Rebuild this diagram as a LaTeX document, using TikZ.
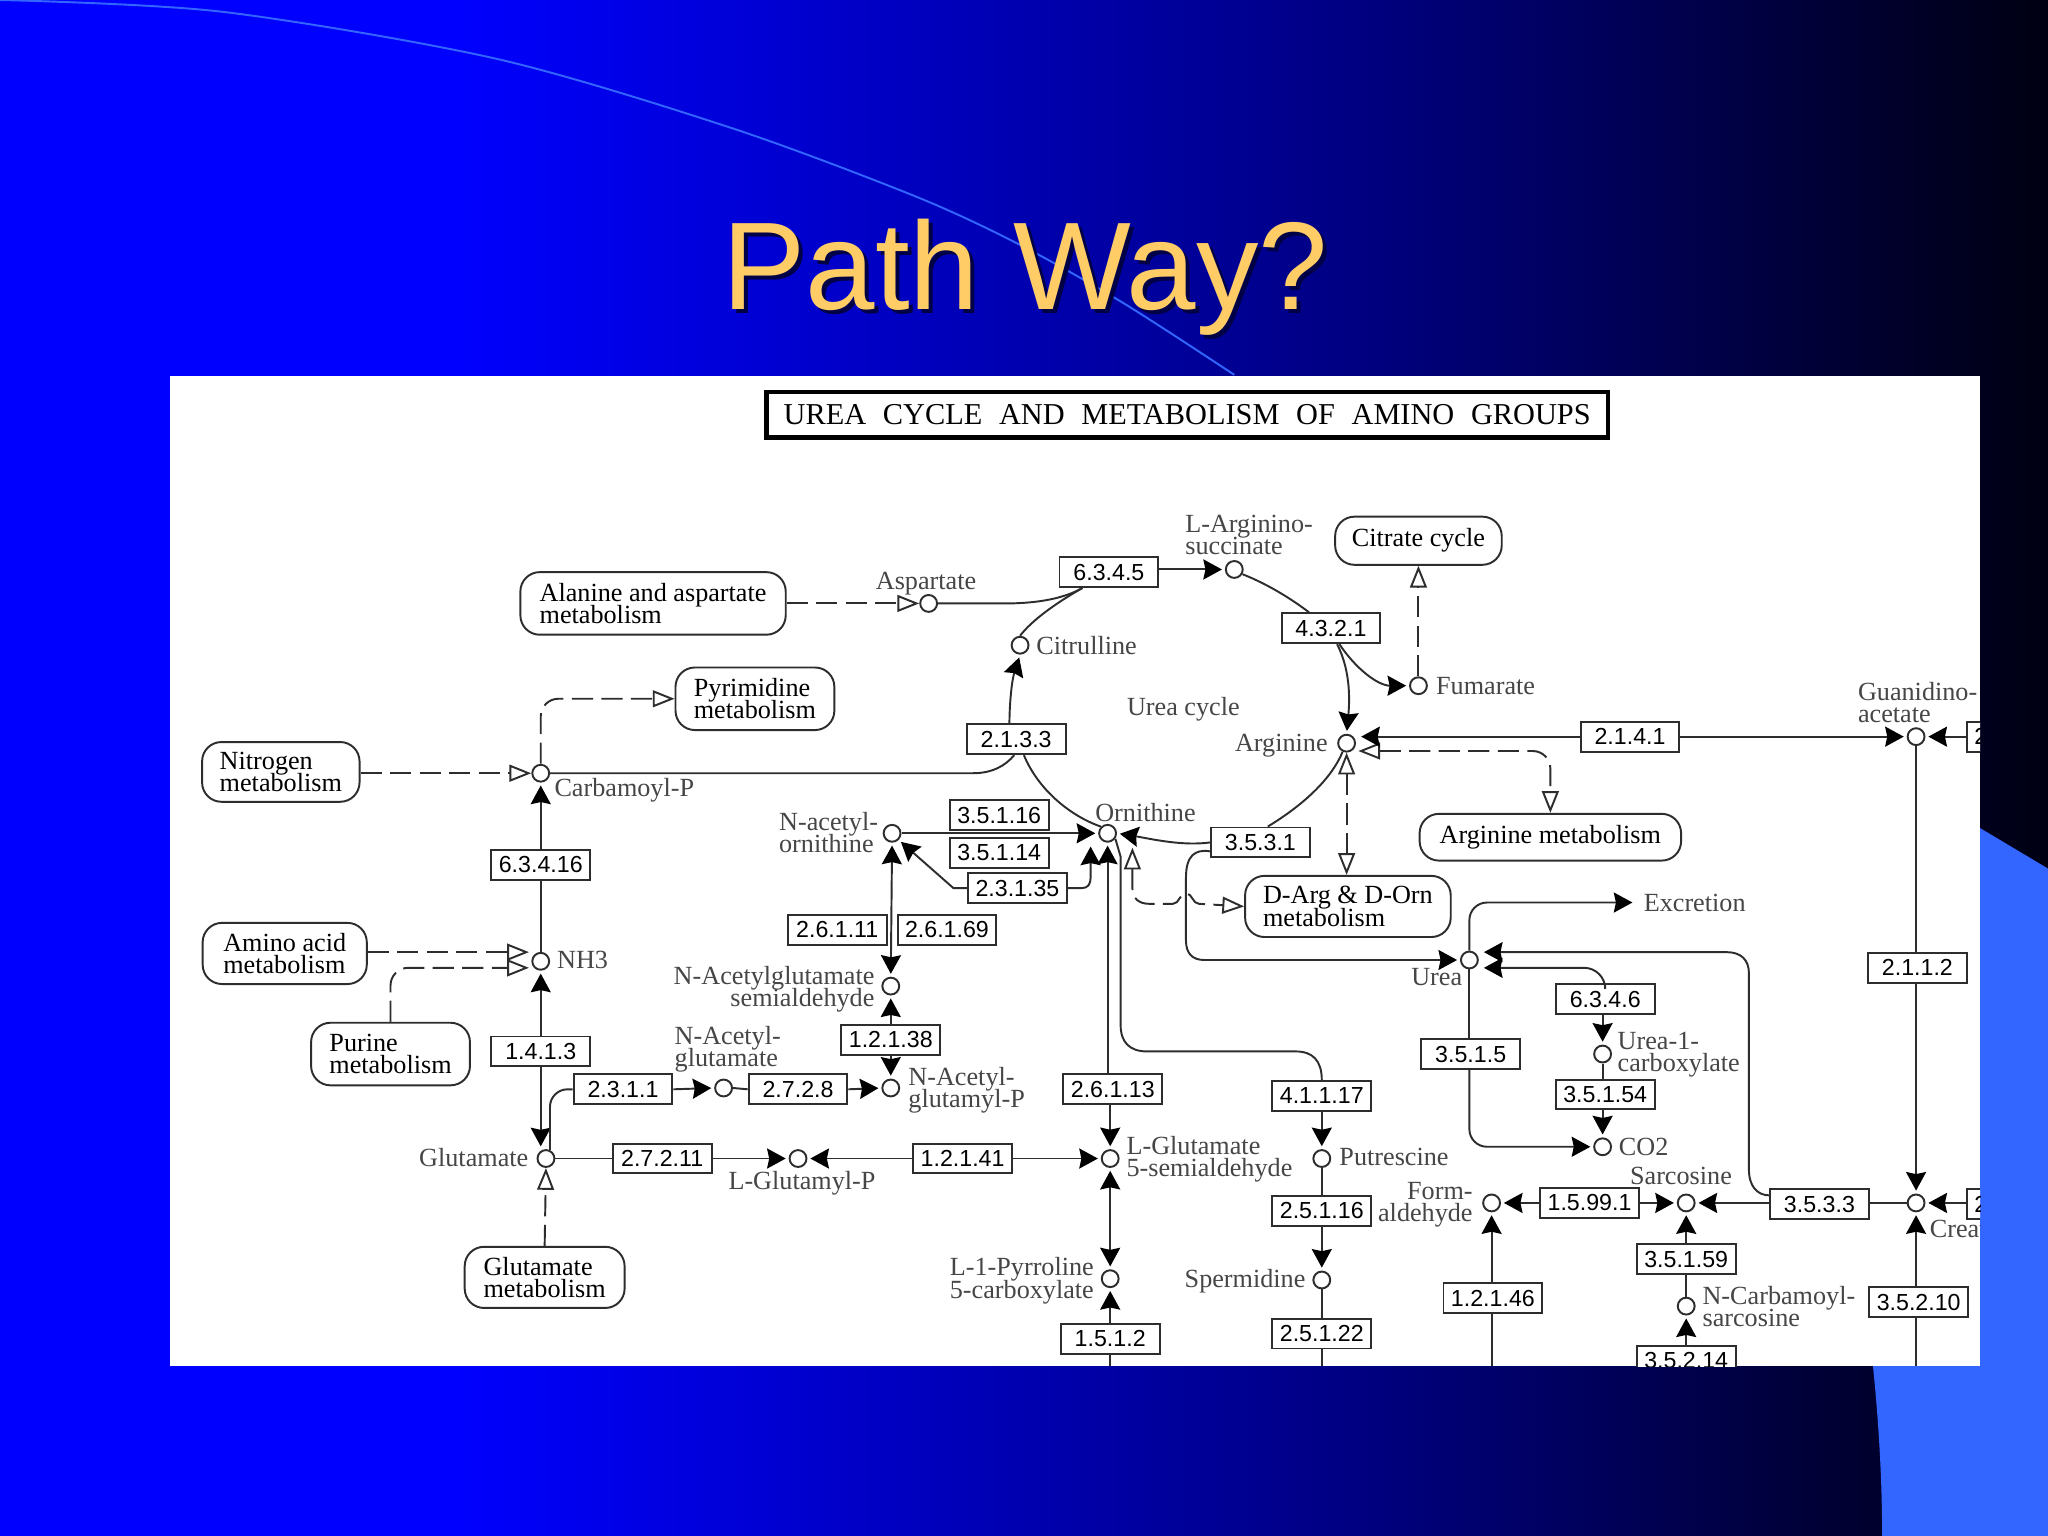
\documentclass[tikz,border=0pt]{standalone}
\usepackage{fontspec}
\usetikzlibrary{arrows.meta}
\setmainfont{Liberation Serif}
\newfontfamily\headfont{Liberation Sans}
\newcommand\enzf{\fontspec{Liberation Sans}\fontsize{6.6}{7}\selectfont}
\newcommand\cpdf{\fontsize{7.45}{6.35}\selectfont\lineskiplimit=-6pt\relax}
\definecolor{bandblue}{RGB}{51,102,255}
\definecolor{headgold}{RGB}{255,204,102}
\definecolor{inkgray}{RGB}{70,70,70}
\definecolor{linegray}{RGB}{45,45,45}
\pgfdeclarehorizontalshading{slidebg}{100bp}{
  rgb(0bp)=(0,0,1);
  rgb(25bp)=(0,0,1);
  rgb(36bp)=(0,0,1);
  rgb(58bp)=(0,0,.51);
  rgb(75bp)=(0,0,.07);
  rgb(100bp)=(0,0,.07)}
\tikzset{
  enz/.style={draw=linegray,line width=.55pt,fill=white,rectangle,inner sep=0pt,
    minimum width=28.1pt,minimum height=8.5pt,font=\enzf,text=black},
  cpd/.style={draw=linegray,line width=.55pt,fill=white,circle,inner sep=0pt,minimum size=4.8pt,outer sep=.3pt},
  pmap/.style={draw=linegray,line width=.55pt,fill=white,rectangle,rounded corners=5.5pt,inner sep=0pt,
    font=\cpdf,align=left,text=black},
  clab/.style={inner sep=0pt,font=\cpdf,text=inkgray,align=left},
  conn/.style={draw=linegray,line width=.55pt},
  dconn/.style={conn,dash pattern=on 6pt off 2.4pt},
  ft/.style={-{Stealth[length=5.3pt,width=5.7pt,inset=.6pt,black]},shorten >=.8pt},
  ftb/.style={{Stealth[length=5.3pt,width=5.7pt,inset=.6pt,black]}-{Stealth[length=5.3pt,width=5.7pt,inset=.6pt,black]},shorten >=.8pt,shorten <=.8pt},
  ot/.style={-{Triangle[open,length=6.2pt,width=4.8pt,fill=white]}},
  otb/.style={{Triangle[open,length=6.2pt,width=4.8pt,fill=white]}-{Triangle[open,length=6.2pt,width=4.8pt,fill=white]}}
}
\begin{document}
\begin{tikzpicture}[x=0.0130612cm,y=-0.0130612cm]
\useasboundingbox (0,0) rectangle (1568,1176);
\shade[shading=slidebg] (0,0) rectangle (1568,1176);
\fill[bandblue] (1568,665) -- (1516,634) -- (1434,634) -- (1434,1046) .. controls (1438,1085) and (1441,1130) .. (1441,1176) -- (1568,1176) -- cycle;
\draw[bandblue,line width=.55pt] plot[smooth] coordinates {(0,0) (170,9) (380,45) (560,98) (700,150) (780,187) (860,232) (945,287)};
\node[font=\headfont\fontsize{35.5}{38}\selectfont,text={rgb,255:red,0;green,0;blue,70},inner sep=0pt] (headshadow) at (788,215) {Path Way?};
\node[font=\headfont\fontsize{35.5}{38}\selectfont,text=headgold,inner sep=0pt] (head) at (785,212) {Path Way?};
\fill[white] (130,288) rectangle (1516,1046);
\begin{scope}
\clip (130,288) rectangle (1516,1046);
% title
\node[draw=black,line width=1.2pt,fill=white,inner sep=0pt,minimum width=239.5pt,minimum height=13pt,font=\fontsize{8.63}{9}\selectfont,text=black] (maintitle) at (909,317.5) {\raisebox{-.9pt}{UREA\hspace{.55em}CYCLE\hspace{.55em}AND\hspace{.55em}METABOLISM\hspace{.55em}OF\hspace{.55em}AMINO\hspace{.55em}GROUPS}};
\coordinate (cAspBend) at (770,462);
\coordinate (cOrnB) at (835,646);
\coordinate (cOrnOpen) at (867,649);
\coordinate (cExc) at (1252,691);
\coordinate (cUreaA) at (1134,729);
\coordinate (cUreaB) at (1134,741);
\coordinate (cNhA) at (405,729);
\coordinate (cNhB) at (405,741);
\coordinate (cArgA) at (1040,564);
\coordinate (cArgB) at (1040,575);
% enzymes
\node[enz] (n6345) at (849,438) {6.3.4.5};
\node[enz] (n4321) at (1019,481) {4.3.2.1};
\node[enz] (n2133) at (778,566) {2.1.3.3};
\node[enz] (n35116) at (765,624) {3.5.1.16};
\node[enz] (n35114) at (765,653) {3.5.1.14};
\node[enz] (n23135) at (779,680) {2.3.1.35};
\node[enz] (n3531) at (965,645) {3.5.3.1};
\node[enz] (n2141) at (1248,564) {2.1.4.1};
\node[enz] (n63416) at (414,662) {6.3.4.16};
\node[enz] (n26111) at (641,712) {2.6.1.11};
\node[enz] (n26169) at (725,712) {2.6.1.69};
\node[enz] (n12138) at (682,796) {1.2.1.38};
\node[enz] (n1413) at (414,805) {1.4.1.3};
\node[enz] (n2311) at (477,834) {2.3.1.1};
\node[enz] (n2728) at (611,834) {2.7.2.8};
\node[enz] (n27211) at (507,887) {2.7.2.11};
\node[enz] (n12141) at (737,887) {1.2.1.41};
\node[enz] (n26113) at (852,834) {2.6.1.13};
\node[enz] (n41117) at (1012,839) {4.1.1.17};
\node[enz] (n25116) at (1012,927) {2.5.1.16};
\node[enz] (n25122) at (1012,1021) {2.5.1.22};
\node[enz] (n1512) at (850,1025) {1.5.1.2};
\node[enz] (n3515) at (1126,807) {3.5.1.5};
\node[enz] (n6346) at (1229,765) {6.3.4.6};
\node[enz] (n35154) at (1229,838) {3.5.1.54};
\node[enz] (n15991) at (1217,921) {1.5.99.1};
\node[enz] (n3533) at (1393,922) {3.5.3.3};
\node[enz] (n35159) at (1291,964) {3.5.1.59};
\node[enz] (n12146) at (1143,994) {1.2.1.46};
\node[enz] (n35210) at (1469,997) {3.5.2.10};
\node[enz] (n35214) at (1291,1042) {3.5.2.14};
\node[enz] (n2112) at (1468,741) {2.1.1.2};
\node[enz,text width=24pt,align=left] (nGuaR) at (1544,564) {2};
\node[enz,text width=24pt,align=left] (nCreR) at (1544,922) {2};
% compounds
\node[cpd] (asp) at (711,462) {};
\node[cpd] (argsuc) at (945,436) {};
\node[cpd] (cit) at (781,494) {};
\node[cpd] (fum) at (1086,525) {};
\node[cpd] (arg) at (1031,569) {};
\node[cpd] (orn) at (848,638) {};
\node[cpd] (nao) at (683,638) {};
\node[cpd] (carb) at (414,592) {};
\node[cpd] (nh3) at (414,736) {};
\node[cpd] (nags) at (682,755) {};
\node[cpd] (nagp) at (682,833) {};
\node[cpd] (nag) at (554,833) {};
\node[cpd] (glu) at (418,887) {};
\node[cpd] (glup) at (611,887) {};
\node[cpd] (lgs) at (850,887) {};
\node[cpd] (pyr) at (850,979) {};
\node[cpd] (put) at (1012,887) {};
\node[cpd] (spd) at (1012,980) {};
\node[cpd] (urea) at (1125,735) {};
\node[cpd] (ucx) at (1227,807) {};
\node[cpd] (co2) at (1227,878) {};
\node[cpd] (form) at (1142,921) {};
\node[cpd] (sar) at (1291,921) {};
\node[cpd] (ncs) at (1291,1000) {};
\node[cpd] (gua) at (1467,564) {};
\node[cpd] (cre) at (1467,921) {};
% pathway maps
\node[pmap,minimum width=75.5pt,minimum height=17.8pt] (mAla) at (500,462) {Alanine and aspartate\\metabolism};
\node[pmap,minimum width=45.2pt,minimum height=17.8pt] (mPyr) at (578,535) {Pyrimidine\\metabolism};
\node[pmap,minimum width=44.8pt,minimum height=17pt] (mNit) at (215,591) {Nitrogen\\metabolism};
\node[pmap,minimum width=46.7pt,minimum height=17.4pt] (mAmi) at (218,730) {Amino acid\\metabolism};
\node[pmap,minimum width=45.2pt,minimum height=17.8pt] (mPur) at (299,807) {Purine\\metabolism};
\node[pmap,minimum width=45.5pt,minimum height=17.4pt] (mGlu) at (417,978) {Glutamate\\metabolism};
\node[pmap,minimum width=47.4pt,minimum height=13.7pt] (mCit) at (1086,414) {\raisebox{-.7pt}{Citrate cycle}};
\node[pmap,minimum width=74.4pt,minimum height=13.3pt] (mArg) at (1187,641) {\raisebox{-.7pt}{Arginine metabolism}};
\node[pmap,minimum width=58.5pt,minimum height=17.4pt] (mDar) at (1032,694) {D-Arg \& D-Orn\\metabolism};
% labels
\node[clab,anchor=center] (tAsp) at (709,447) {Aspartate};
\node[clab,anchor=west] (tAS) at (907,409.5) {L-Arginino-\\succinate};
\node[clab,anchor=west] (tCit) at (793,494) {Citrulline};
\node[clab,anchor=west] (tFum) at (1099,525) {Fumarate};
\node[clab,anchor=east] (tArg) at (1017,571) {Arginine};
\node[clab,anchor=center] (tOrn) at (877,622) {Ornithine};
\node[clab,anchor=west] (tNao) at (596,637.5) {N-acetyl-\\ornithine};
\node[clab,anchor=west] (tCar) at (424,605) {Carbamoyl-P};
\node[clab,anchor=west] (tNh3) at (426,735) {NH3};
\node[clab,anchor=east,align=right] (tNags) at (670,757.5) {N-Acetylglutamate\\semialdehyde};
\node[clab,anchor=west] (tNagp) at (695,834.5) {N-Acetyl-\\glutamyl-P};
\node[clab,anchor=west] (tNag) at (516,803.5) {N-Acetyl-\\glutamate};
\node[clab,anchor=east] (tGlu) at (405,886) {Glutamate};
\node[clab,anchor=center] (tGlup) at (614,906) {L-Glutamyl-P};
\node[clab,anchor=west] (tLgs) at (862,887.5) {L-Glutamate\\5-semialdehyde};
\node[clab,anchor=east,align=right] (tPyr) at (838,980.5) {L-1-Pyrroline\\5-carboxylate};
\node[clab,anchor=west] (tPut) at (1025,886) {Putrescine};
\node[clab,anchor=east] (tSpd) at (1000,981) {Spermidine};
\node[clab,anchor=center] (tUrea) at (1100,748) {Urea};
\node[clab,anchor=west] (tUcx) at (1238,807.5) {Urea-1-\\carboxylate};
\node[clab,anchor=west] (tCo2) at (1239,878) {CO2};
\node[clab,anchor=east,align=right] (tForm) at (1128,922.5) {Form-\\aldehyde};
\node[clab,anchor=center] (tSar) at (1287,900) {Sarcosine};
\node[clab,anchor=west] (tNcs) at (1303,1000.5) {N-Carbamoyl-\\sarcosine};
\node[clab,anchor=west] (tGua) at (1422,538) {Guanidino-\\acetate};
\node[clab,anchor=west] (tCre) at (1477,941) {Creatine};
\node[clab,anchor=west] (tExc) at (1258,691) {Excretion};
\node[clab,anchor=center] (tUcy) at (906,543) {Urea cycle};
% connectors: urea cycle
\draw[dconn,ot] (mAla.east) -- (asp.west);
\draw[conn] (asp.east) -- (cAspBend) .. controls (795,462) and (815,458) .. (n6345.211);
\draw[conn] (cit.north) .. controls (790,475) and (808,462) .. (n6345.211);
\draw[conn,ft] (n6345.east |- argsuc.west) -- (argsuc.west);
\draw[conn] (argsuc.-30) .. controls (970,447) and (988,458) .. (n4321.144);
\draw[conn,ft] (n4321.-69) .. controls (1035,515) and (1033,540) .. (arg.north);
\draw[conn,ft] (n4321.-62) .. controls (1038,512) and (1055,525) .. (fum.west);
\draw[dconn,ot] (fum.north) -- (mCit.south);
\draw[conn,ft] (n2133.113) .. controls (773,535) and (775,520) .. (cit.south);
\draw[conn] (carb.east) -- (745,592) .. controls (760,592) and (770,586) .. (n2133.-97);
\draw[conn] (n2133.-64) .. controls (795,605) and (820,625) .. (orn.135);
\draw[conn] (arg.-115) .. controls (1020,595) and (1000,615) .. (n3531.65);
\draw[conn,ft] (n3531.west) .. controls (905,648) and (880,642) .. (orn.east);
\draw[conn,ft] (n3531.-170) .. controls (915,650) and (908,655) .. (908,672) -- (908,720) .. controls (908,730) and (913,735) .. (922,735) -- (urea.west);
% connectors: left side
\draw[dconn,ot] (mNit.east |- carb.west) -- (carb.west);
\draw[dconn,ot,rounded corners=5pt] (carb.north) |- (mPyr.west);
\draw[conn,ft] (n63416.north) -- (carb.south);
\draw[conn] (nh3.north) -- (n63416.south);
\draw[dconn,ot] (mAmi.east |- cNhA) -- (cNhA);
\draw[dconn,ot,rounded corners=5pt] (mPur.north) |- (cNhB);
\draw[conn,ft] (n1413.north) -- (nh3.south);
\draw[conn,ft] (n1413.south) -- (n1413.south |- glu.100);
\draw[conn,rounded corners=5pt] (glu.65) |- (n2311.west);
\draw[conn,ft] (n2311.east) -- (nag.west);
\draw[conn] (nag.east) -- (n2728.west);
\draw[conn,ft] (n2728.east) -- (nagp.west);
\draw[conn,ft] (n12138.south) -- (nagp.north);
\draw[conn,ft] (n12138.north) -- (nags.south);
\draw[conn,ftb] (nao.south) -- (nags.north);
\draw[conn,ft] (nao.east) -- (orn.west);
\draw[conn,ft] (n23135.west) -- (730,680) -- (nao.-45);
\draw[conn,ft] (n23135.east) -- (828,680) .. controls (833,680) and (835,677) .. (835,672) -- (cOrnB);
\draw[conn,ft] (n26113.north -| orn.south) -- (orn.south);
\draw[conn] (orn.-35) -- (858,656) -- (858,785) .. controls (858,798) and (865,805) .. (878,805) -- (992,805) .. controls (1005,805) and (1012,812) .. (n41117.north);
\draw[dconn,otb] (cOrnOpen) -- (867,680) .. controls (867,688) and (872,692) .. (880,692) -- (898,692) .. controls (903,692) and (903,684) .. (908,684) .. controls (913,684) and (913,692) .. (918,692) -- (mDar.west);
\draw[conn,ft] (n26113.south -| lgs.north) -- (lgs.north);
\draw[conn] (glu.east) -- (n27211.west);
\draw[conn,ft] (n27211.east) -- (glup.west);
\draw[conn,ft] (n12141.west) -- (glup.east);
\draw[conn,ft] (n12141.east) -- (lgs.west);
\draw[dconn,ot] (mGlu.north) -- (glu.south);
\draw[conn,ftb] (lgs.south) -- (pyr.north);
\draw[conn,ft] (n1512.north) -- (pyr.south);
\coordinate (cB1) at (850,1046);
\draw[conn] (n1512.south) -- (cB1);
% connectors: middle and right
\draw[conn,ft] (n41117.south) -- (put.north);
\draw[conn] (put.south) -- (n25116.north);
\draw[conn,ft] (n25116.south) -- (spd.north);
\draw[conn] (spd.south) -- (n25122.north);
\coordinate (cB2) at (1012,1046);
\draw[conn] (n25122.south) -- (cB2);
\draw[dconn,otb] (arg.south) -- (mDar.north -| arg.south);
\draw[dconn,otb,rounded corners=5pt] (cArgB) -| (mArg.north);
\draw[conn,ft] (n2141.west) -- (cArgA);
\draw[conn,ft] (n2141.east) -- (gua.west);
\draw[conn,ft] (nGuaR.west) -- (gua.east);
\draw[conn] (gua.south) -- (n2112.north -| gua.south);
\draw[conn,ft] (n2112.south -| cre.north) -- (cre.north);
\draw[conn] (n3533.east |- cre.west) -- (cre.west);
\draw[conn,ft] (nCreR.west |- cre.east) -- (cre.east);
\draw[conn,ft] (n35210.north -| cre.south) -- (cre.south);
\coordinate (cB3) at (1467,1046);
\draw[conn] (n35210.south -| cB3) -- (cB3);
\draw[conn,ft] (n3533.west |- sar.east) -- (sar.east);
\draw[conn,ft] (n3533.170) .. controls (1345,915) and (1339,908) .. (1339,895) -- (1339,745) .. controls (1339,735) and (1333,729) .. (1322,729) -- (cUreaA);
\draw[conn,ft,rounded corners=6pt] (n6346.north) |- (cUreaB);
\draw[conn,ft] (n6346.south -| ucx.north) -- (ucx.north);
\draw[conn] (ucx.south) -- (n35154.north -| ucx.south);
\draw[conn,ft] (n35154.south -| co2.north) -- (co2.north);
\draw[conn] (urea.south) -- (n3515.north -| urea.south);
\draw[conn,ft,rounded corners=5pt] (urea.north) |- (cExc);
\draw[conn,ft,rounded corners=5pt] (n3515.south -| urea.south) |- (co2.west);
\draw[conn,ft] (n15991.west) -- (form.east);
\draw[conn,ft] (n15991.east) -- (sar.west);
\draw[conn,ft] (n12146.north -| form.south) -- (form.south);
\coordinate (cB4) at (1142,1046);
\draw[conn] (n12146.south -| cB4) -- (cB4);
\draw[conn,ft] (n35159.north) -- (sar.south);
\draw[conn] (ncs.north) -- (n35159.south);
\draw[conn,ft] (n35214.north) -- (ncs.south);
\end{scope}
\end{tikzpicture}
\end{document}
